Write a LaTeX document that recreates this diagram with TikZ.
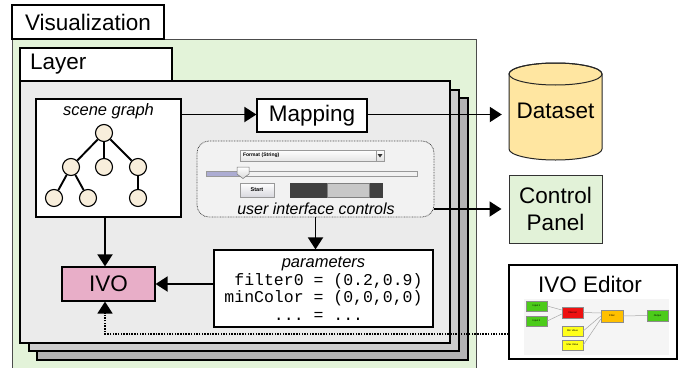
\documentclass[tikz,border=0pt]{standalone}
\usepackage{fontspec}
\setmainfont{Liberation Sans}
\setmonofont{Liberation Mono}
\usetikzlibrary{arrows.meta}
\definecolor{vizgreen}{HTML}{E3F3D9}
\definecolor{cpgreen}{HTML}{E2F2D8}
\definecolor{layerA}{HTML}{EBEBEB}
\definecolor{layerB}{HTML}{CCCCCC}
\definecolor{layerC}{HTML}{B3B3B3}
\definecolor{dsfill}{HTML}{FFE6A1}
\definecolor{treefill}{HTML}{F8EEDB}
\definecolor{ivofill}{HTML}{E8AEC8}
\definecolor{uifill}{HTML}{F2F2F2}
\definecolor{minigreen}{HTML}{4CCB1A}
\definecolor{minired}{HTML}{EE1111}
\definecolor{miniorange}{HTML}{FFC000}
\definecolor{miniyellow}{HTML}{FFFF1A}
\begin{document}
\begin{tikzpicture}[x=1pt,y=-1pt,
  box/.style={draw, line width=1.2pt, rectangle, inner sep=0pt, fill=white},
  big/.style={font=\fontsize{22.5}{27}\selectfont},
  mid/.style={font=\fontsize{16.5}{18}\selectfont\itshape},
  arr/.style={line width=1.9pt, -{Triangle[length=12pt,width=15pt]}},
  circ/.style={circle, draw, fill=treefill, minimum size=17pt, inner sep=0pt, line width=1.1pt},
  treeedge/.style={line width=1.9pt},
  layerbox/.style={draw, line width=1.2pt, inner sep=0pt},
  mini/.style={draw=black!45, line width=0.4pt, inner sep=0pt, font=\fontsize{2.5}{3}\selectfont},
  miniedge/.style={draw=black!35, line width=0.5pt},
  dotline/.style={line width=1.7pt, dash pattern=on 1.5pt off 1.2pt, -{Triangle[length=12pt,width=15pt]}}
]
\useasboundingbox (0,0) rectangle (685,367);

% Visualization container
\node[draw=black!70, line width=0.8pt, fill=vizgreen, minimum width=464pt, minimum height=331pt, inner sep=0pt] (viz) at (244,204.5) {};
\node[box, minimum width=152pt, minimum height=34pt, big] (vizl) at (88,22) {Visualization};

% Layer stack
\node[layerbox, fill=layerC, minimum width=431pt, minimum height=262pt] (lay3) at (252.5,229) {};
\node[layerbox, fill=layerB, minimum width=430pt, minimum height=261pt] (lay2) at (244,220.5) {};
\node[layerbox, fill=layerA, minimum width=430pt, minimum height=262pt] (lay1) at (235,212) {};
\node[box, minimum height=33pt, text width=132pt, inner xsep=10pt, align=left, big] (layl) at (96,64.5) {Layer};

% Scene graph
\node[box, minimum width=145pt, minimum height=118pt] (sg) at (108.5,158) {};
\node[mid] (sgt) at (108.5,111) {scene graph};
\node[circ] (t0) at (104,133) {};
\node[circ] (t1) at (71,167) {};
\node[circ] (t2) at (104,167) {};
\node[circ] (t3) at (138,167) {};
\node[circ] (t4) at (54,198) {};
\node[circ] (t5) at (88,198) {};
\node[circ] (t6) at (138,198) {};
\draw[treeedge] (t0) -- (t1);
\draw[treeedge] (t0) -- (t2);
\draw[treeedge] (t0) -- (t3);
\draw[treeedge] (t1) -- (t4);
\draw[treeedge] (t1) -- (t5);
\draw[treeedge] (t3) -- (t6);

% Mapping
\node[box, minimum width=110pt, minimum height=33pt, big] (map) at (312,115.5) {Mapping};

% UI controls
\node[draw=black!70, fill=uifill, dash pattern=on 0.8pt off 0.8pt, line width=0.8pt, rounded corners=12pt, minimum width=237pt, minimum height=76pt, inner sep=0pt] (ui) at (315.5,179) {};
\node[draw=black!40, line width=0.5pt, top color=white, bottom color=black!10, minimum width=136pt, minimum height=11pt, inner sep=0pt, text width=130pt, align=left, font=\fontsize{5}{6}\selectfont\bfseries] (combo) at (308,155.5) {Format (String)};
\node[draw=black!40, line width=0.5pt, top color=white, bottom color=black!12, minimum width=8pt, minimum height=11pt, inner sep=0pt] (combobtn) at (380,155.5) {};
\fill[black!80] (377.5,154) -- (382.5,154) -- (380,157.5) -- cycle;
\draw[black!40, line width=0.5pt, fill=black!5] (206,171) rectangle (417,176);
\fill[blue!30!gray!50] (206.5,171.5) rectangle (243,175.5);
\draw[black!55, line width=0.5pt, top color=white, bottom color=black!15] (237,167) -- (249,167) -- (249,174) -- (243,178.5) -- (237,174) -- cycle;
\node[draw=black!40, line width=0.5pt, top color=white, bottom color=blue!15!black!15, minimum width=34pt, minimum height=14pt, inner sep=0pt, font=\fontsize{5.5}{6}\selectfont\bfseries] (start) at (257,190) {Start};
\fill[black!75] (290,183) rectangle (383,198);
\draw[black!50, fill=black!22, line width=0.5pt] (327,183.5) rectangle (369,197.5);
\node[mid, font=\fontsize{16}{18}\selectfont\itshape] (uit) at (316,209) {user interface controls};

% Parameters
\node[box, minimum width=219pt, minimum height=77pt, align=center, font=\fontsize{16.5}{17.5}\selectfont] (params) at (323.5,288.5)
  {\itshape parameters\\
   \ttfamily\phantom{x}filter0 = (0.2,0.9)\\
   \ttfamily minColor = (0,0,0,0)\\
   \ttfamily\phantom{xxxxx}... = ...\phantom{xxxxxx}};

% IVO
\node[box, fill=ivofill, minimum width=93pt, minimum height=34pt, big] (ivo) at (108.5,284) {IVO};

% Dataset cylinder
\node[minimum width=93pt, minimum height=97pt, inner sep=0pt] (ds) at (555.5,111.5) {};
\draw[black!85, line width=1pt, fill=dsfill] (509,74) -- (509,149) arc[start angle=180, end angle=360, x radius=46.5pt, y radius=11pt] -- (602,74) arc[start angle=0, end angle=180, x radius=46.5pt, y radius=11pt] -- cycle;
\draw[black!85, line width=1pt] (555.5,74) ellipse [x radius=46.5pt, y radius=11pt];
\node[big] (dst) at (555.5,111) {Dataset};

% Control panel
\node[draw=black!80, line width=1pt, fill=cpgreen, minimum width=93pt, minimum height=68pt, inner sep=0pt, align=center, big] (cp) at (555.5,209) {Control\\Panel};

% IVO Editor
\node[draw, line width=1.5pt, fill=white, minimum width=168pt, minimum height=94pt, inner sep=0pt] (ed) at (593,312) {};
\node[big] (edt) at (590,284) {IVO Editor};
\fill[black!4] (524,299) rectangle (669,355);
\node[mini, fill=minigreen, minimum width=21pt, minimum height=10pt] (m1) at (536.5,306) {Input 1};
\node[mini, fill=minigreen, minimum width=21pt, minimum height=10pt] (m2) at (536.5,321) {Input 2};
\node[mini, fill=minired, minimum width=21pt, minimum height=11pt] (m3) at (572.5,312.5) {Interval};
\node[mini, fill=miniorange, minimum width=22pt, minimum height=12pt] (m4) at (612,316) {Filter};
\node[mini, fill=minigreen, minimum width=21pt, minimum height=11pt] (m5) at (657.5,315.5) {Output};
\node[mini, fill=miniyellow, minimum width=21pt, minimum height=10pt] (m6) at (572.5,331) {Min Value};
\node[mini, fill=miniyellow, minimum width=21pt, minimum height=10pt] (m7) at (572.5,345) {Max Value};
\draw[miniedge] (m1.east) -- ([yshift=2.5pt]m3.west);
\draw[miniedge] (m2.east) -- ([yshift=-1.5pt]m3.west);
\draw[miniedge] (m3.east) -- ([yshift=3pt]m4.west);
\draw[miniedge] (m6.east) -- (m4.west);
\draw[miniedge] (m7.east) -- ([yshift=-3pt]m4.west);
\draw[miniedge] (m4.east) -- (m5.west);

% Connectors
\draw[arr] ([yshift=1pt]sg.east |- map.west) -- ([yshift=1pt]map.west);
\draw[arr, shorten >=7pt] ([yshift=1pt]map.east) -- ([yshift=1pt]map.east -| ds.west);
\draw[arr, shorten >=7pt] (cp.west -| ui.east) -- (cp.west);
\draw[arr] (ui.south) -- (ui.south |- params.north);
\draw[arr] ([xshift=-3.5pt]sg.south) -- ([xshift=-3.5pt]ivo.north);
\draw[arr] (params.west |- ivo.east) -- (ivo.east);
\coordinate (dl) at (105,334);
\draw[dotline] (ed.west |- dl) -- (dl) -- (dl |- ivo.south);
\end{tikzpicture}
\end{document}
